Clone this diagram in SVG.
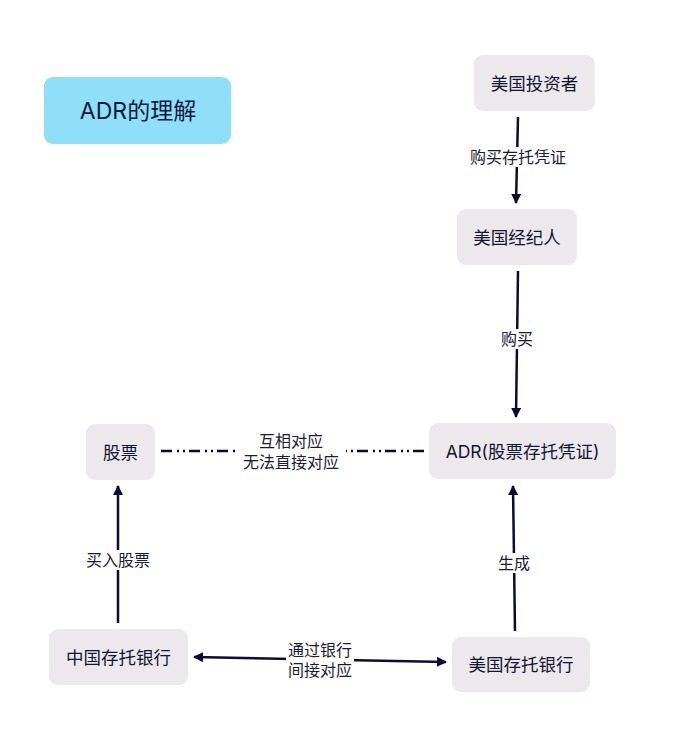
<svg xmlns="http://www.w3.org/2000/svg" width="700" height="750" viewBox="0 0 700 750">
<defs>
<marker id="ah" viewBox="0 0 10 10" refX="9" refY="5" markerWidth="10" markerHeight="10" markerUnits="userSpaceOnUse" orient="auto-start-reverse">
<path d="M0,0 L10,5 L0,10 Z" fill="#0b0b35"/>
</marker>
<style>
.node rect{fill:#ebe9ec;}
.node text{font-family:Inter,"Noto Sans CJK SC",sans-serif;font-size:17.5px;fill:#14142e;text-anchor:middle;dominant-baseline:central;}
.edge{stroke:#0b0b35;stroke-width:2.5;fill:none;}
.lbl{font-family:Inter,"Noto Sans CJK SC",sans-serif;font-size:16px;fill:#1c1c30;text-anchor:middle;dominant-baseline:central;}
.lblbg{fill:#ffffff;}
</style>
</defs>
<rect width="700" height="750" fill="#ffffff"/>
<g id="title" class="node">
<rect x="44" y="77" width="187" height="67" rx="9" style="fill:#8fdff8"/>
<text x="138" y="110.5" style="font-size:23px;fill:#0f1840">ADR的理解</text>
</g>
<g id="investor" class="node">
<rect x="474" y="55" width="121" height="56" rx="9"/>
<text x="534.5" y="83">美国投资者</text>
</g>
<g id="broker" class="node">
<rect x="457" y="209" width="120" height="56" rx="9"/>
<text x="517" y="237">美国经纪人</text>
</g>
<g id="adr" class="node">
<rect x="429" y="423" width="187" height="56" rx="9"/>
<text x="522.5" y="451">ADR(股票存托凭证)</text>
</g>
<g id="stock" class="node">
<rect x="86" y="424" width="69" height="56" rx="9"/>
<text x="120.5" y="452">股票</text>
</g>
<g id="cnbank" class="node">
<rect x="49" y="629" width="139" height="56" rx="9"/>
<text x="118.5" y="657">中国存托银行</text>
</g>
<g id="usbank" class="node">
<rect x="452" y="637" width="138" height="55" rx="9"/>
<text x="521" y="664.5">美国存托银行</text>
</g>
<g id="connectors">
<path class="edge" d="M518,117 L516,203" marker-end="url(#ah)"/>
<rect class="lblbg" x="466" y="147" width="104" height="20"/>
<text class="lbl" x="518" y="157">购买存托凭证</text>
<path class="edge" d="M518,271 L516,417" marker-end="url(#ah)"/>
<rect class="lblbg" x="499" y="329" width="36" height="20"/>
<text class="lbl" x="517" y="339">购买</text>
<path class="edge" d="M424,451 L160,451" stroke-dasharray="11 4 2 4 2 5"/>
<rect class="lblbg" x="236" y="430" width="110" height="42"/>
<text class="lbl" x="291" y="441">互相对应</text>
<text class="lbl" x="291" y="462">无法直接对应</text>
<path class="edge" d="M118,623 L118,486" marker-end="url(#ah)"/>
<rect class="lblbg" x="83" y="550" width="70" height="20"/>
<text class="lbl" x="118" y="560">买入股票</text>
<path class="edge" d="M515,631 L513,486" marker-end="url(#ah)"/>
<rect class="lblbg" x="496" y="553" width="36" height="20"/>
<text class="lbl" x="514" y="563">生成</text>
<path class="edge" d="M194,657 L446,662" marker-start="url(#ah)" marker-end="url(#ah)"/>
<rect class="lblbg" x="286" y="639" width="68" height="42"/>
<text class="lbl" x="320" y="650">通过银行</text>
<text class="lbl" x="320" y="670">间接对应</text>
</g>
</svg>
